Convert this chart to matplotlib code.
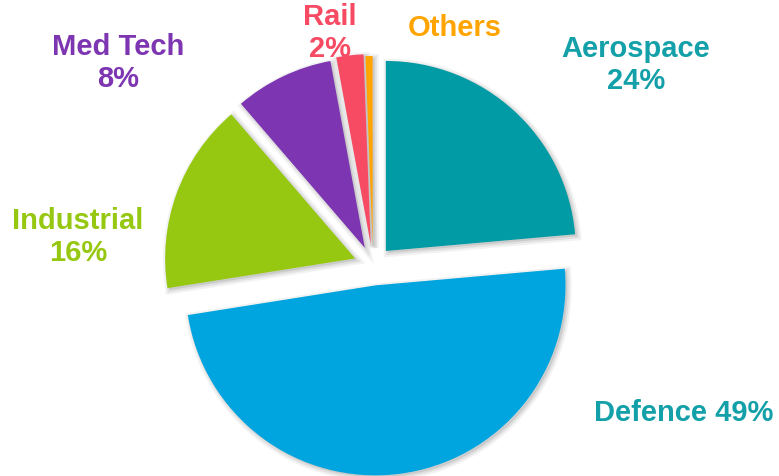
import matplotlib.pyplot as plt
from matplotlib.patches import Wedge

# sector shares, labels as printed
sectors = ["Aerospace", "Defence", "Industrial", "Med Tech", "Rail", "Others"]
shares = [23.6, 48.9, 16.2, 8.4, 2.3, 0.6]
labels = ["Aerospace\n24%", "Defence 49%", "Industrial\n16%", "Med Tech\n8%", "Rail\n2%", "Others"]
colors = ["#009BA4", "#00A5DF", "#97C811", "#7D35B1", "#F74A63", "#FFA400"]
text_colors = ["#13A0A8", "#13A0A8", "#97C811", "#7D35B1", "#F74A63", "#FFA400"]
explode_frac = [0.1, 0.108, 0.1, 0.1, 0.11, 0.1]  # fraction of radius

W, H = 779, 476
fig = plt.figure(figsize=(W / 100, H / 100), dpi=100)
ax = fig.add_axes([0, 0, 1, 1])

# pie laid out in pixel units (y up)
center = (373, H - 265)
radius = 190
# explode is in data units, so scale by the radius
explode = [e * radius for e in explode_frac]
wedges, _ = ax.pie(shares, colors=colors, explode=explode, startangle=90,
                   counterclock=False, center=center, radius=radius,
                   wedgeprops=dict(linewidth=0), frame=True)
ax.set_xlim(0, W)
ax.set_ylim(0, H)
ax.set_aspect("equal")
ax.axis("off")

# soft grey drop shadow behind every slice
for w in wedges:
    cx, cy = w.center
    for lw, a in [(6, 0.12), (3, 0.2)]:
        sh = Wedge((cx + 2, cy - 2), w.r, w.theta1, w.theta2, facecolor="#9a9a9a",
                   edgecolor="#9a9a9a", lw=lw, alpha=a, zorder=w.get_zorder() - 1)
        ax.add_patch(sh)

# labels (pixel positions, converted to y-up)
label_pos = [(636, 65), (684, 413), (78, 237), (118, 63), (330, 33), (455, 28)]
for lab, (x, y), c in zip(labels, label_pos, text_colors):
    ax.text(x, H - y, lab, color=c, fontsize=21, fontweight="bold",
            family="Liberation Sans", ha="center", va="center", linespacing=1.2)

fig.savefig("out.png", dpi=100, facecolor="white")
